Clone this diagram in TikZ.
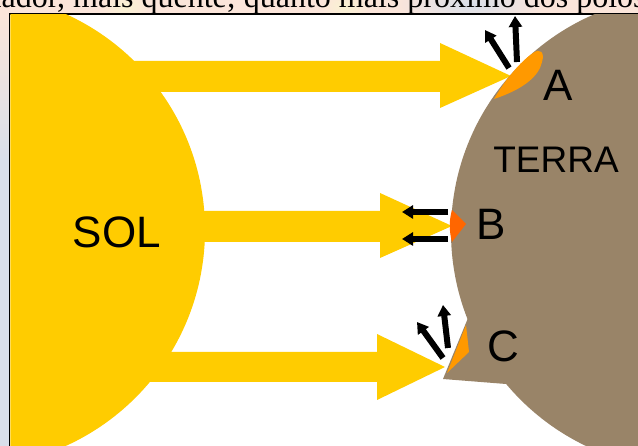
\documentclass[tikz,border=0pt]{standalone}
\usepackage{fontspec}
\setmainfont{Liberation Sans}
\newfontfamily\serifface{Liberation Serif}
\usetikzlibrary{arrows.meta}
\definecolor{sunyellow}{HTML}{FFCC00}
\definecolor{earthbrown}{HTML}{998468}
\definecolor{hotorange}{HTML}{FF9900}
\definecolor{redorange}{HTML}{FF6600}
\definecolor{peach}{HTML}{FBE5DA}
\definecolor{paleblue}{HTML}{D9DFEA}
\definecolor{paleyellow}{HTML}{FAF3D2}

\begin{document}
\begin{tikzpicture}[x=1pt,y=-1pt,
  ray/.style={fill=sunyellow},
  bounce/.style={draw=black, line width=6, -{Triangle[width=13,length=11]}},
  bodylabel/.style={font=\fontsize{44}{44}\selectfont, text=black, inner sep=0}]
\useasboundingbox (0,0) rectangle (638,446);
\clip (0,0) rectangle (638,446);

% slide background around the framed figure
\fill[peach] (0,0) rectangle (638,14);
\shade[inner color=paleyellow, outer color=peach] (125,6) ellipse (25 and 14);
\shade[inner color=paleyellow, outer color=peach] (345,6) ellipse (25 and 14);
\shade[inner color=paleblue, outer color=peach] (470,4) ellipse (75 and 24);
\shade[top color=peach, bottom color=paleblue] (0,14) rectangle (10,160);
\fill[paleblue] (0,160) rectangle (10,446);
\node[anchor=base west, inner sep=0, font=\serifface\fontsize{32}{32}\selectfont] (caption)
  at (1.4,7.5) {\llap{Equ}ador, mais quente; quanto mais próximo dos polos, mais frio};

% figure frame
\fill[white] (9.6,14.2) rectangle (638,446);
\draw[line width=1.6] (9.6,446) -- (9.6,14.2) -- (638,14.2);

\begin{scope}
  \clip (10.4,15) rectangle (638,446);

  % the Sun
  \fill[sunyellow] (-32,230) circle (237);

  % sun rays
  \fill[ray] (120,61) -- (440,61) -- (440,43) -- (511,76) -- (440,108) -- (440,92) -- (120,92) -- cycle;
  \fill[ray] (120,211) -- (380,211) -- (380,193) -- (452,226) -- (380,258) -- (380,242) -- (120,242) -- cycle;
  \fill[ray] (120,352) -- (377,352) -- (377,334) -- (445,367) -- (377,400) -- (377,382) -- (120,382) -- cycle;

  % the Earth
  \fill[earthbrown] (688,232) circle (237);
  \fill[earthbrown] (468,318) -- (443,379) -- (506,384) -- (520,330) -- cycle;

  % heated spots
  \fill[hotorange] (494,99) .. controls (505,80) and (520,62) .. (533,53)
    .. controls (540,48) and (545,52) .. (542,62)
    .. controls (539,76) and (524,89) .. (494,99) -- cycle;
  \fill[redorange] (452,210) -- (466,224) -- (452,242) .. controls (449,231) and (449,220) .. (452,210) -- cycle;
  \fill[hotorange] (466,325) -- (469,352) -- (447,373) -- cycle;

  % reflected radiation
  \coordinate (a1s) at (509,68);  \coordinate (a1e) at (485,30);
  \coordinate (a2s) at (517,62);  \coordinate (a2e) at (515,16);
  \coordinate (b1s) at (448,212); \coordinate (b1e) at (402,212);
  \coordinate (b2s) at (448,239); \coordinate (b2e) at (402,239);
  \coordinate (c1s) at (443,358); \coordinate (c1e) at (417,322);
  \coordinate (c2s) at (448,348); \coordinate (c2e) at (443,305);
  \draw[bounce] (a1s) -- (a1e);
  \draw[bounce] (a2s) -- (a2e);
  \draw[bounce] (b1s) -- (b1e);
  \draw[bounce] (b2s) -- (b2e);
  \draw[bounce] (c1s) -- (c1e);
  \draw[bounce] (c2s) -- (c2e);

  % labels
  \node[bodylabel] (sol) at (117,232) {SOL};
  \node[font=\fontsize{37}{37}\selectfont, inner sep=0] (terra) at (556,160) {TERRA};
  \node[bodylabel] (ptA) at (558,85) {A};
  \node[bodylabel] (ptB) at (491,224) {B};
  \node[bodylabel] (ptC) at (503,346) {C};
\end{scope}
\end{tikzpicture}
\end{document}
